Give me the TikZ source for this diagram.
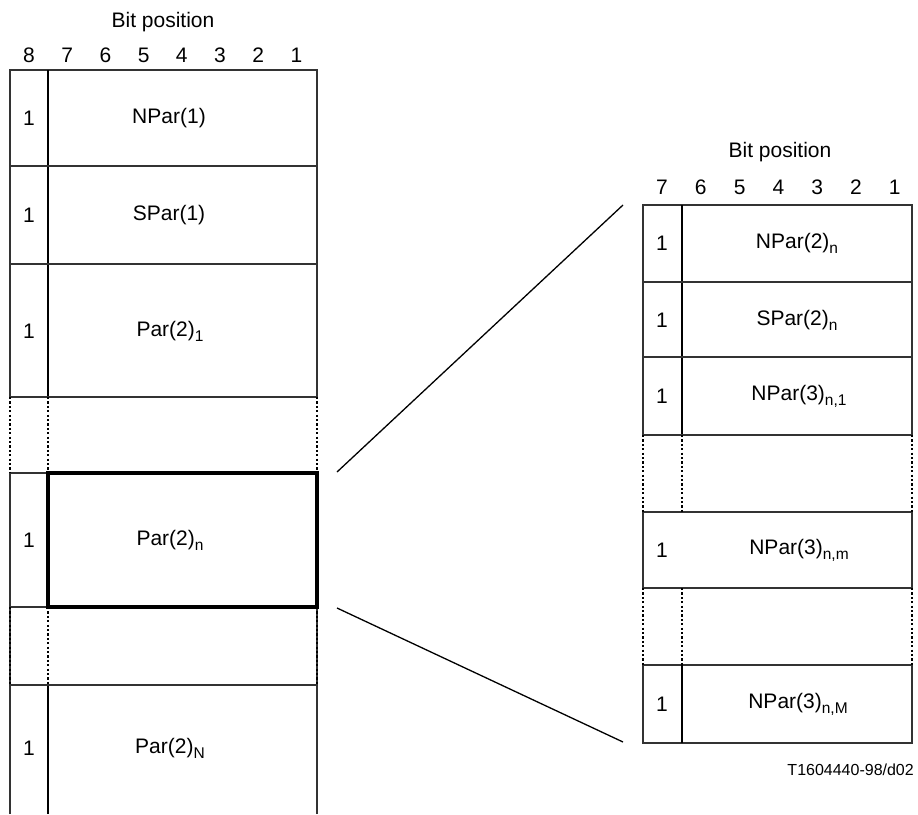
\documentclass[tikz,border=0pt]{standalone}
\usepackage{fontspec}
\setmainfont{Liberation Sans}
\newcommand{\lowidx}[1]{\raisebox{-0.45ex}{\fontsize{15.5}{15.5}\selectfont #1}}
\tikzset{
 cell/.style={draw=black!80,line width=1.1pt},
 divline/.style={draw=black,line width=1.9pt},
 gapline/.style={draw=black,line width=1.7pt,dash pattern=on 2.2pt off 2.2pt},
 hilite/.style={draw=black,line width=3.2pt},
 fieldtxt/.style={font=\fontsize{21}{21}\selectfont,inner sep=0pt},
 zoomline/.style={draw=black,line width=1.3pt}
}
\begin{document}
\begin{tikzpicture}[x=1pt,y=-1pt]
 \useasboundingbox (0,0) rectangle (918,814);
 % left frame
 \node[fieldtxt] (bpl) at (163,22) {Bit position};
 \foreach \b in {1,...,8} \node[fieldtxt] (bl\b) at ({29+(8-\b)*38.2},55) {\b};
 \draw[cell] (10,814)--(10,607); \draw[cell] (317,814)--(317,607);
 \draw[cell] (10,397)--(10,70)--(317,70)--(317,397);
 \draw[divline] (48,70)--(48,397); \draw[divline] (48,685)--(48,814);
 \draw[cell] (10,166)--(317,166); \draw[cell] (10,264)--(317,264);
 \draw[cell] (10,397)--(317,397); \draw[cell] (10,685)--(317,685);
 \draw[cell] (10,473)--(48,473)--(48,607)--(10,607); \draw[cell] (10,473)--(10,607);
 \draw[gapline] (10,397)--(10,473); \draw[gapline] (48,397)--(48,473); \draw[gapline] (317,397)--(317,473);
 \draw[gapline] (10,607)--(10,685); \draw[gapline] (48,607)--(48,685); \draw[gapline] (317,607)--(317,685);
 \draw[hilite] (48,473) rectangle (317,607);
 \node[fieldtxt] (l1) at (29,118) {1}; \node[fieldtxt] (npar1) at (169,118) {NPar(1)};
 \node[fieldtxt] (l2) at (29,215) {1}; \node[fieldtxt] (spar1) at (169,215) {SPar(1)};
 \node[fieldtxt] (l3) at (29,331) {1}; \node[fieldtxt] (par2a) at (170,331) {Par(2)\lowidx{1}};
 \node[fieldtxt] (l4) at (29,540) {1}; \node[fieldtxt] (par2n) at (170,540) {Par(2)\lowidx{n}};
 \node[fieldtxt] (l5) at (29,748) {1}; \node[fieldtxt] (par2N) at (170,748) {Par(2)\lowidx{N}};
 % right frame
 \node[fieldtxt] (bpr) at (780,152) {Bit position};
 \foreach \b in {1,...,7} \node[fieldtxt] (br\b) at ({662+(7-\b)*38.8},187) {\b};
 \draw[cell] (643,435)--(643,205)--(912,205)--(912,435);
 \draw[divline] (682,205)--(682,435);
 \draw[cell] (643,282)--(912,282); \draw[cell] (643,357)--(912,357); \draw[cell] (643,435)--(912,435);
 \draw[cell] (643,512) rectangle (912,588);
 \draw[cell] (643,665) rectangle (912,743); \draw[divline] (682,665)--(682,743);
 \draw[gapline] (643,435)--(643,512); \draw[gapline] (682,435)--(682,512); \draw[gapline] (912,435)--(912,512);
 \draw[gapline] (643,588)--(643,665); \draw[gapline] (682,588)--(682,665); \draw[gapline] (912,588)--(912,665);
 \node[fieldtxt] (r1) at (662,243) {1}; \node[fieldtxt] (npar2) at (797,243) {NPar(2)\lowidx{n}};
 \node[fieldtxt] (r2) at (662,320) {1}; \node[fieldtxt] (spar2) at (797,320) {SPar(2)\lowidx{n}};
 \node[fieldtxt] (r3) at (662,396) {1}; \node[fieldtxt] (npar3a) at (799,396) {NPar(3)\lowidx{n,1}};
 \node[fieldtxt] (r4) at (662,550) {1}; \node[fieldtxt] (npar3m) at (799,550) {NPar(3)\lowidx{n,m}};
 \node[fieldtxt] (r5) at (662,704) {1}; \node[fieldtxt] (npar3M) at (798,704) {NPar(3)\lowidx{n,M}};
 \node[fieldtxt,anchor=east,font=\fontsize{16}{16}\selectfont] (fig) at (914,770) {T1604440-98/d02};
 % zoom lines
 \coordinate (zu1) at (337,472); \coordinate (zu2) at (623,205);
 \coordinate (zl1) at (337,608); \coordinate (zl2) at (623,742);
 \draw[zoomline] (zu1)--(zu2); \draw[zoomline] (zl1)--(zl2);
\end{tikzpicture}
\end{document}
